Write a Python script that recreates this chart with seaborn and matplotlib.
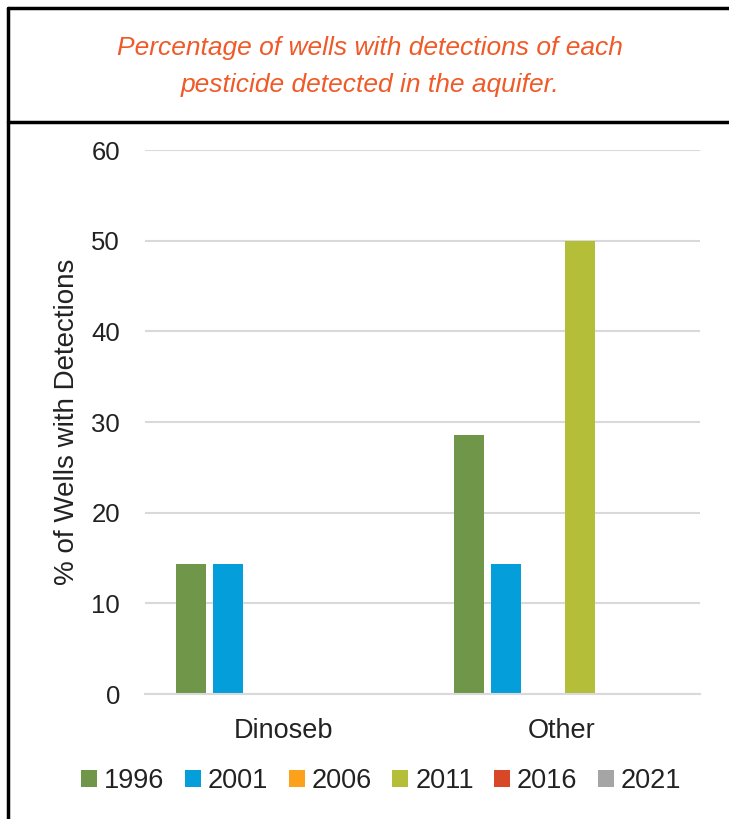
import numpy as np
import pandas as pd
import matplotlib.pyplot as plt
import seaborn as sns
from matplotlib.lines import Line2D

categories = ['Dinoseb', 'Other']
years = ['1996', '2001', '2006', '2011', '2016', '2021']
dinoseb = [14.29, 14.29, 0, 0, 0, 0]
other = [28.57, 14.29, 0, 50.0, 0, 0]
colors = ['#70964A', '#049FDA', '#FBA11B', '#B4BE38', '#D84727', '#A5A5A5']

df = pd.DataFrame({
    'category': np.repeat(categories, len(years)),
    'year': years * 2,
    'pct': dinoseb + other,
})

sns.set_style('white')
plt.rcParams['font.family'] = ['Liberation Sans', 'DejaVu Sans']

fig = plt.figure(figsize=(7.29, 8.19), dpi=100)
ax = fig.add_axes([0.1989, 0.1526, 0.7613, 0.6642])

sns.barplot(data=df, x='category', y='pct', hue='year', palette=colors,
            width=0.8, gap=0.19, linewidth=0, saturation=1, ax=ax)

ax.set_ylim(0, 60)
ax.set_xlim(-0.5, 1.5)
ax.set_yticks(range(0, 61, 10))
ax.yaxis.grid(True, color='#d9d9d9', linewidth=1.5)
ax.set_axisbelow(True)
for s in ['left', 'right', 'top']:
    ax.spines[s].set_visible(False)
ax.spines['bottom'].set_color('#d9d9d9')
ax.spines['bottom'].set_linewidth(1.5)
ax.tick_params(axis='y', length=0, pad=18, labelsize=18.5, labelcolor='#222222')
ax.tick_params(axis='x', which='major', length=0, pad=17, labelsize=19.5, labelcolor='#222222')
ax.set_xticks([-0.5, 0.5, 1.5], minor=True)
ax.tick_params(axis='x', which='minor', length=7, width=1.5, color='#d9d9d9')
ax.set_xlabel('')
ax.set_ylabel('% of Wells with Detections', fontsize=20, color='#222222', labelpad=8)

handles, labels = ax.get_legend_handles_labels()
ax.legend_.remove()
fig.legend(handles, labels, loc='center', bbox_to_anchor=(0.523, 0.046), ncol=6,
           frameon=False, fontsize=19.5, handlelength=0.6, handleheight=0.6,
           handletextpad=0.25, columnspacing=0.75, labelcolor='#222222')

fig.text(0.508, 0.9185, 'Percentage of wells with detections of each\npesticide detected in the aquifer.',
         ha='center', va='center', fontsize=19, style='italic', color='#F05A28', linespacing=1.7)

# frame lines of the text box
fig.add_artist(Line2D([7.5 / 729, 1], [1 - 7.5 / 819] * 2, color='black', lw=2.5))
fig.add_artist(Line2D([7.5 / 729, 1], [1 - 122 / 819] * 2, color='black', lw=2.5))
fig.add_artist(Line2D([7.5 / 729] * 2, [0, 1 - 7.5 / 819], color='black', lw=2.5))

fig.savefig('out.png', dpi=100)
